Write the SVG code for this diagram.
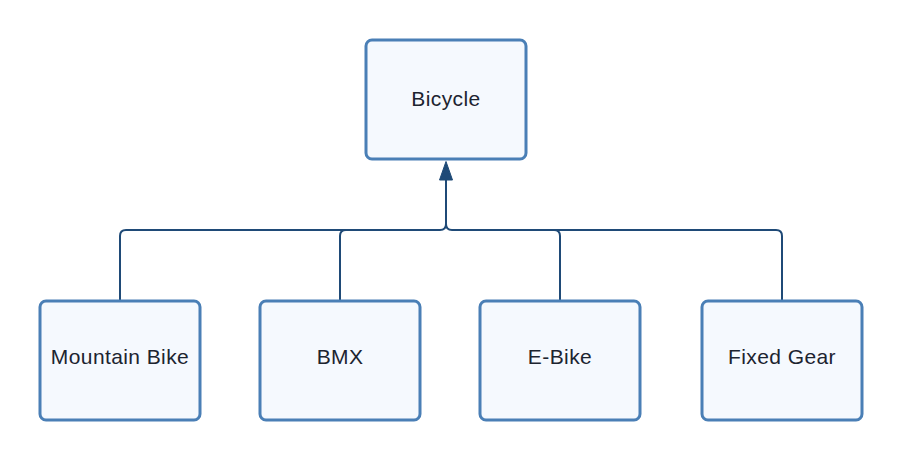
<svg xmlns="http://www.w3.org/2000/svg" width="902" height="461" viewBox="0 0 902 461">
<style>
.box{fill:#f5f9fe;stroke:#4a7fb6;stroke-width:3}
.lbl{font-family:"Liberation Sans",Arial,sans-serif;font-size:21px;fill:#1c2430;text-anchor:middle;letter-spacing:0.4px}
.conn{fill:none;stroke:#1f4a77;stroke-width:2}
</style>
<defs>
<marker id="arr" markerWidth="12" markerHeight="19" refX="6" refY="0" orient="auto" markerUnits="userSpaceOnUse" viewBox="0 0 12 19">
</marker>
</defs>
<rect width="902" height="461" fill="#ffffff"/>
<g id="connectors">
<path class="conn" d="M120 300 V236 Q120 230 126 230 H440 Q446 230 446 224 V178"/>
<path class="conn" d="M340 300 V236 Q340 230 346 230 H440"/>
<path class="conn" d="M560 300 V236 Q560 230 554 230 H452 Q446 230 446 224"/>
<path class="conn" d="M782 300 V236 Q782 230 776 230 H452"/>
<path d="M446 161.5 L452.5 180 L439.5 180 Z" fill="#1f4a77" stroke="#1f4a77" stroke-width="1" stroke-linejoin="round"/>
</g>
<g id="bicycle">
<rect class="box" x="366" y="40" width="160" height="119" rx="6"/>
<text class="lbl" x="446" y="106">Bicycle</text>
</g>
<g id="mountain-bike">
<rect class="box" x="40" y="301" width="160" height="119" rx="6"/>
<text class="lbl" x="120" y="363.5">Mountain Bike</text>
</g>
<g id="bmx">
<rect class="box" x="260" y="301" width="160" height="119" rx="6"/>
<text class="lbl" x="340" y="363.5">BMX</text>
</g>
<g id="e-bike">
<rect class="box" x="480" y="301" width="160" height="119" rx="6"/>
<text class="lbl" x="560" y="363.5">E-Bike</text>
</g>
<g id="fixed-gear">
<rect class="box" x="702" y="301" width="160" height="119" rx="6"/>
<text class="lbl" x="782" y="363.5">Fixed Gear</text>
</g>
</svg>
